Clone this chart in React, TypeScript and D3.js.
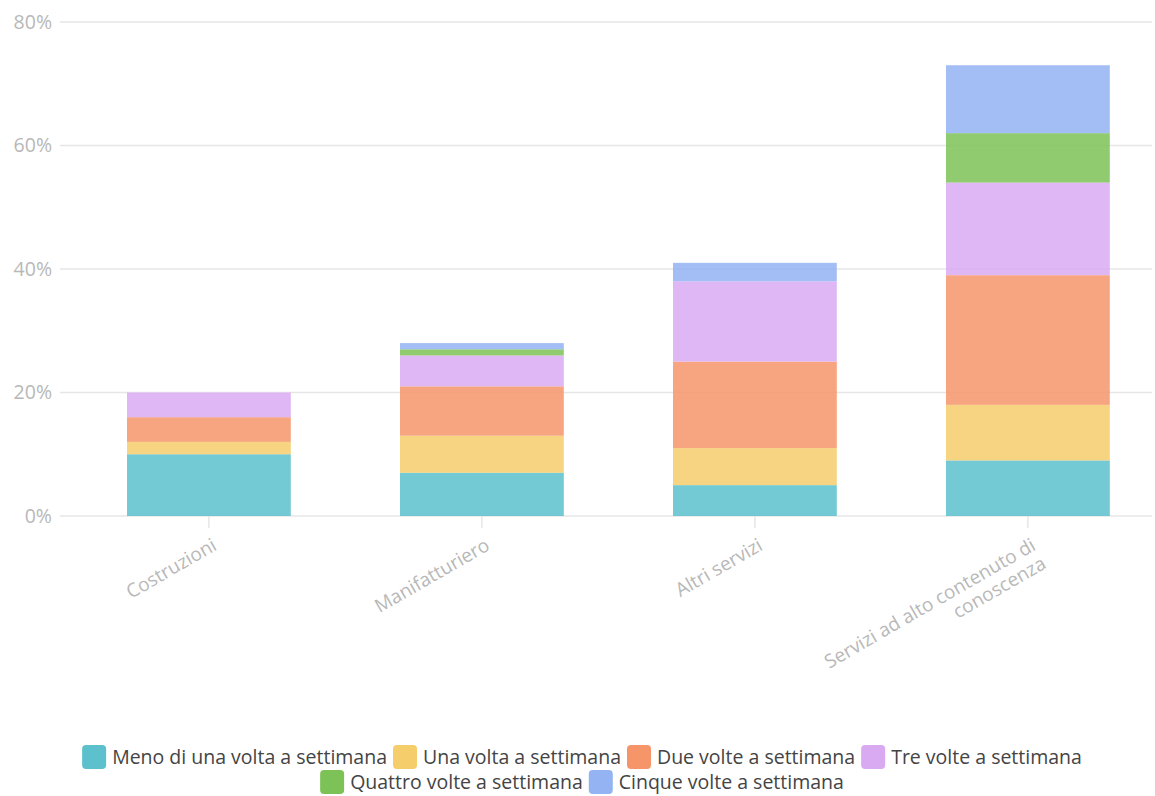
import React, { useEffect, useRef } from "react";
import * as d3 from "d3";

const categories = [
  "Costruzioni",
  "Manifatturiero",
  "Altri servizi",
  "Servizi ad alto contenuto di|conoscenza",
];

const seriesNames = [
  "Meno di una volta a settimana",
  "Una volta a settimana",
  "Due volte a settimana",
  "Tre volte a settimana",
  "Quattro volte a settimana",
  "Cinque volte a settimana",
];

const seriesColors = ["#5CC1CC", "#F5CD6B", "#F6956A", "#D9AAF2", "#7DC257", "#93B3F2"];

// percentage per category, one array per series
const menoDiUna = [10, 7, 5, 9];
const unaVolta = [2, 6, 6, 9];
const dueVolte = [4, 8, 14, 21];
const treVolte = [4, 5, 13, 15];
const quattroVolte = [0, 1, 0, 8];
const cinqueVolte = [0, 1, 3, 11];

const seriesValues = [menoDiUna, unaVolta, dueVolte, treVolte, quattroVolte, cinqueVolte];

const yTicks = [0, 20, 40, 60, 80];

const W = 1155;
const H = 796;
const FONT = "'Open Sans', sans-serif";

export default function App() {
  const ref = useRef<SVGSVGElement | null>(null);

  useEffect(() => {
    const svg = d3.select(ref.current);
    svg.selectAll("*").remove();

    const plotLeft = 60;
    const plotRight = 1152;
    const y = d3.scaleLinear().domain([0, 80]).range([516, 22]);
    const x = d3
      .scaleBand<string>()
      .domain(categories)
      .range([72.4, 72.4 + 273 * 4])
      .paddingInner(0.4)
      .paddingOuter(0.2);

    // gridlines and y labels
    const grid = svg.append("g");
    yTicks.forEach((t) => {
      grid
        .append("line")
        .attr("x1", plotLeft)
        .attr("x2", plotRight)
        .attr("y1", y(t))
        .attr("y2", y(t))
        .attr("stroke", "#e6e6e6")
        .attr("stroke-width", 1.5);
      grid
        .append("text")
        .attr("x", 52)
        .attr("y", y(t))
        .attr("dy", "0.35em")
        .attr("text-anchor", "end")
        .attr("fill", "#b8b8b8")
        .attr("font-family", FONT)
        .attr("font-size", 19.5)
        .text(`${t}%`);
    });

    // stacked bars
    const rows = categories.map((c, i) => {
      const r: Record<string, number | string> = { cat: c };
      seriesNames.forEach((s, k) => (r[s] = seriesValues[k][i]));
      return r;
    });
    const stack = d3.stack<Record<string, number | string>>().keys(seriesNames)(rows);
    const bars = svg.append("g");
    stack.forEach((layer, k) => {
      bars
        .selectAll(null)
        .data(layer)
        .enter()
        .append("rect")
        .attr("x", (d) => x(d.data.cat as string)!)
        .attr("width", x.bandwidth())
        .attr("y", (d) => y(d[1]))
        .attr("height", (d) => y(d[0]) - y(d[1]))
        .attr("fill", seriesColors[k])
        .attr("fill-opacity", 0.85);
    });

    // x ticks and rotated labels
    const xa = svg.append("g");
    categories.forEach((c) => {
      const cx = x(c)! + x.bandwidth() / 2;
      xa.append("line")
        .attr("x1", cx)
        .attr("x2", cx)
        .attr("y1", 516)
        .attr("y2", 528)
        .attr("stroke", "#e6e6e6")
        .attr("stroke-width", 1.5);
      const t = xa
        .append("text")
        .attr("transform", `translate(${cx + 9},549) rotate(-30)`)
        .attr("text-anchor", "end")
        .attr("fill", "#b8b8b8")
        .attr("font-family", FONT)
        .attr("font-size", 19);
      c.split("|").forEach((line, i) => {
        t.append("tspan").attr("x", 0).attr("dy", i === 0 ? 0 : 21).text(line);
      });
    });

    // legend
    const legendRows = [seriesNames.slice(0, 4), seriesNames.slice(4)];
    const rowY = [757, 782];
    const sq = 24;
    const legend = svg.append("g");
    let idx = 0;
    legendRows.forEach((names, r) => {
      const g = legend.append("g");
      let cursor = 0;
      names.forEach((n) => {
        const k = idx++;
        g.append("rect")
          .attr("x", cursor)
          .attr("y", rowY[r] - sq / 2)
          .attr("width", sq)
          .attr("height", sq)
          .attr("rx", 4)
          .attr("fill", seriesColors[k]);
        const tx = g
          .append("text")
          .attr("x", cursor + sq + 6)
          .attr("y", rowY[r])
          .attr("dy", "0.35em")
          .attr("fill", "#444")
          .attr("font-family", FONT)
          .attr("font-size", 19.5)
          .text(n);
        const tw = (tx.node() as SVGTextElement).getComputedTextLength();
        cursor += sq + 6 + tw + 6;
      });
      const total = cursor - 6;
      g.attr("transform", `translate(${582 - total / 2},0)`);
    });
  }, []);

  return (
    <svg
      ref={ref}
      width={W}
      height={H}
      style={{ position: "absolute", left: 0, top: 0, background: "#fff" }}
    />
  );
}
